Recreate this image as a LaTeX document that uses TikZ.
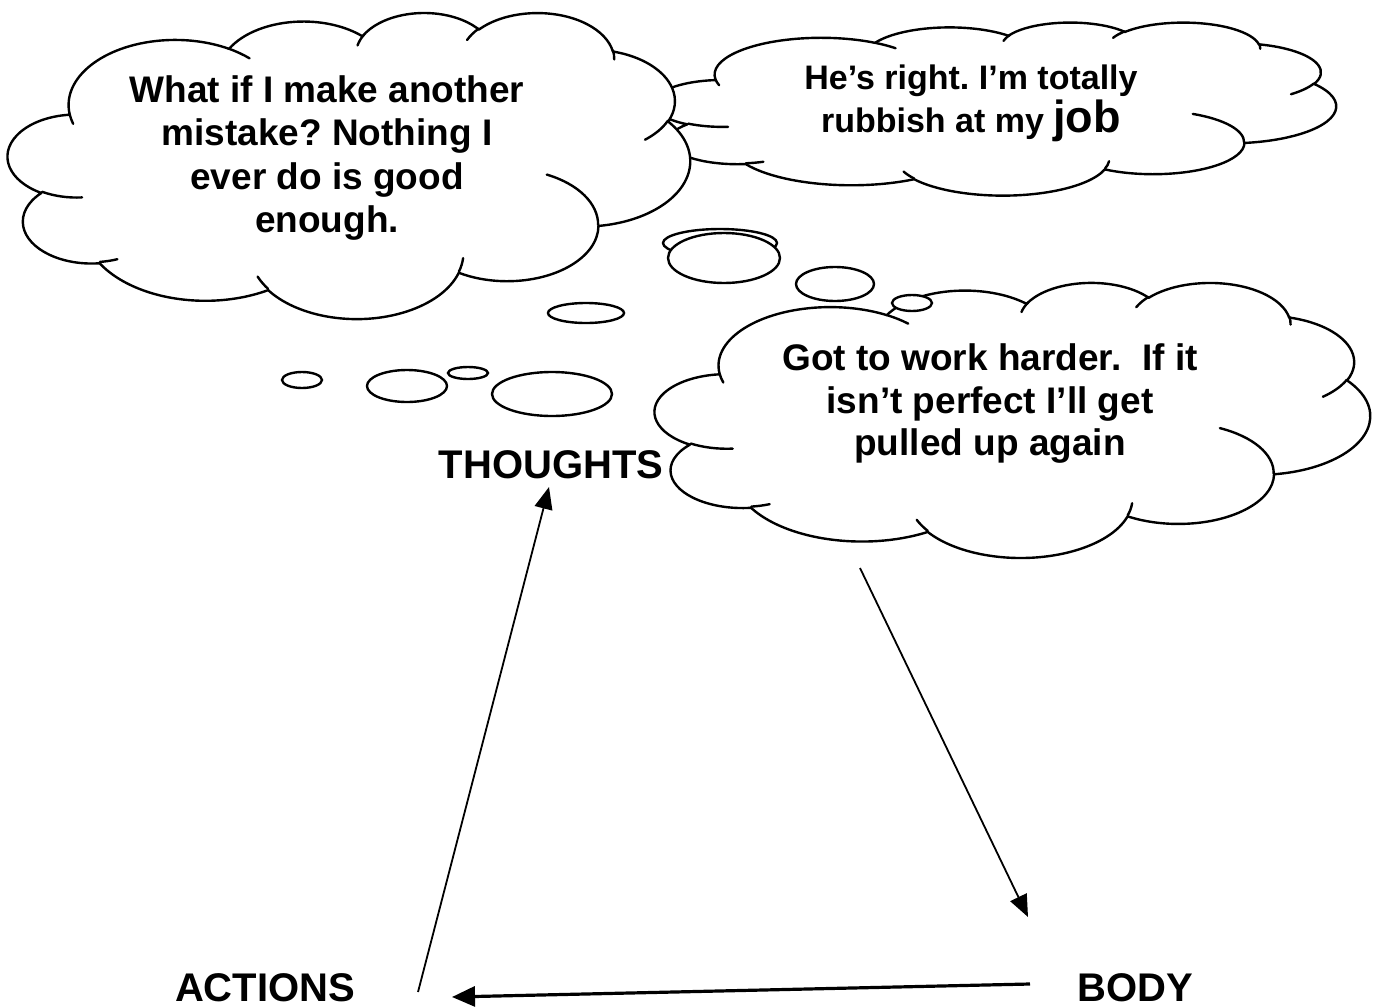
\documentclass[tikz,border=0pt]{standalone}
\usepackage{fontspec}
\setmainfont{Liberation Sans}
\usetikzlibrary{arrows.meta}
\frenchspacing

\newcommand\carc[4]{%
  \pgfmathsetmacro\crx{(#1)/4320/10}%
  \pgfmathsetmacro\cry{(#2)/4320/10}%
  \pgfmathsetmacro\cta{atan2(\crx*sin(#3),\cry*cos(#3))}%
  \pgfmathsetmacro\ctb{atan2(\crx*sin((#3)+(#4)),\cry*cos((#3)+(#4)))}%
  \pgfmathsetmacro\ctb{(\cta)+mod((\ctb)-(\cta)+720,360)}%
  \pgfpatharcaxes{\cta}{\ctb}{\pgfpointxy{\crx}{0}}{\pgfpointxy{0}{\cry}}%
}
\newcommand\cloudshape{%
  \pgfsetlinewidth{2.4pt}\pgfsetroundjoin\pgfsetroundcap
  \pgfsetfillcolor{white}\pgfsetstrokecolor{black}%
  \pgfpathmoveto{\pgfpointxy{0.090278}{0.332639}}%
  \carc{6753}{9190}{-190.4875}{123.7805}%
  \carc{5333}{7267}{-144.1024}{89.9452}%
  \carc{4365}{5945}{-145.8079}{99.7230}%
  \carc{4857}{6595}{-130.9861}{117.2417}%
  \carc{5333}{7273}{-78.7089}{109.0269}%
  \carc{6775}{9220}{-46.2673}{130.2690}%
  \carc{5785}{7867}{0.6250}{114.0333}%
  \carc{6752}{9215}{22.4516}{115.1726}%
  \carc{7720}{10543}{66.2426}{75.7110}%
  \carc{4360}{5918}{-274.9421}{146.7356}%
  \carc{4345}{5945}{-246.8285}{152.5189}%
  \pgfpathclose
  \pgfusepath{fill,stroke}%
  \pgfpathmoveto{\pgfpointxy{0.10863}{0.60595}}\carc{4345}{5945}{86.7420}{26.4295}%
  \pgfpathmoveto{\pgfpointxy{0.16037}{0.80785}}\carc{4360}{5918}{73.6105}{11.4475}%
  \pgfpathmoveto{\pgfpointxy{0.38144}{0.90486}}\carc{6752}{9215}{137.6242}{14.0811}%
  \pgfpathmoveto{\pgfpointxy{0.66729}{0.80442}}\carc{6752}{9215}{6.4533}{15.9984}%
  \pgfpathmoveto{\pgfpointxy{0.79002}{0.53134}}\carc{5785}{7867}{-70.2924}{70.9174}%
  \pgfpathmoveto{\pgfpointxy{0.96755}{0.35542}}\carc{5333}{7273}{30.3180}{27.7515}%
  \pgfpathmoveto{\pgfpointxy{0.88713}{0.12560}}\carc{4857}{6595}{-13.7443}{14.8548}%
  \pgfpathmoveto{\pgfpointxy{0.67310}{0.09148}}\carc{4857}{6595}{-149.1815}{18.1843}%
  \pgfpathmoveto{\pgfpointxy{0.51252}{0.10926}}\carc{4365}{5945}{-163.4943}{19.0100}%
  \pgfpathmoveto{\pgfpointxy{0.32407}{0.12019}}\carc{6753}{9190}{-66.7070}{12.3194}%
  \pgfpathmoveto{\pgfpointxy{0.09553}{0.36549}}\carc{6753}{9190}{157.6544}{11.8582}%
  \pgfusepath{stroke}%
}

\begin{document}
\begin{tikzpicture}[x=1pt,y=-1pt,
  bub/.style={draw=black,fill=white,line width=2.4pt},
  arr/.style={-{Triangle[length=22pt,width=18pt]},line width=1.8pt},
  harr/.style={-{Triangle[length=23pt,width=20pt]},line width=3.2pt},
  tA/.style={font=\bfseries\fontsize{37}{44}\selectfont,inner sep=0pt,anchor=base},
  tB/.style={font=\bfseries\fontsize{34}{40}\selectfont,inner sep=0pt,anchor=base},
  tC/.style={font=\bfseries\fontsize{40}{46}\selectfont,inner sep=0pt,anchor=base}]
\useasboundingbox (0,0) rectangle (1377,1007);
\fill[white] (0,0) rectangle (1377,1007);

% cloud 2 (behind)
\begin{scope}[shift={(654,22)},x=682pt,y=-173pt]\cloudshape\end{scope}
% bubbles of cloud 2
\draw[bub] (720,243) ellipse [x radius=57,y radius=14];
\draw[bub] (724,258) ellipse [x radius=56,y radius=25];
\draw[bub] (835,284) ellipse [x radius=39,y radius=17];
% cloud 1
\begin{scope}[shift={(8,12)},x=682pt,y=-306pt]\cloudshape\end{scope}
% bubbles of cloud 1
\draw[bub] (586,313) ellipse [x radius=38,y radius=10];
\draw[bub] (302,380) ellipse [x radius=20,y radius=8];
\draw[bub] (407,386) ellipse [x radius=40,y radius=16];
\draw[bub] (468,373) ellipse [x radius=20,y radius=6];
\draw[bub] (552,394) ellipse [x radius=60,y radius=22];
% cloud 3
\begin{scope}[shift={(655,282)},x=715pt,y=-275pt]\cloudshape\end{scope}
\draw[bub] (912,303) ellipse [x radius=20,y radius=8];

% texts
\node[tA] (c1a) at (327,102) {What if I make another};
\node[tA] (c1b) at (327,145.5) {mistake? Nothing I};
\node[tA] (c1c) at (327,189) {ever do is good};
\node[tA] (c1d) at (327,232) {enough.};
\node[tB] (c2a) at (971,89) {He’s right. I’m totally};
\node[tB] (c2b) at (971,132) {rubbish at my {\fontsize{45}{50}\selectfont job}};
\node[tA] (c3a) at (990,370) {Got to work harder.~ If it};
\node[tA] (c3b) at (990,413) {isn’t perfect I’ll get};
\node[tA] (c3c) at (990,455) {pulled up again};
\node[tC] (thoughts) at (551,478) {THOUGHTS};
\node[tC] (actions) at (265,1001) {ACTIONS};
\node[tC] (body) at (1135,1001) {BODY};

% connectors
\coordinate (a1s) at (418,992);
\coordinate (a1e) at (549,487);
\coordinate (a2s) at (860,568);
\coordinate (a2e) at (1028,917);
\coordinate (a3s) at (1030,984);
\coordinate (a3e) at (452,997);
\draw[arr] (a1s) -- (a1e);
\draw[arr] (a2s) -- (a2e);
\draw[harr] (a3s) -- (a3e);
\end{tikzpicture}
\end{document}
